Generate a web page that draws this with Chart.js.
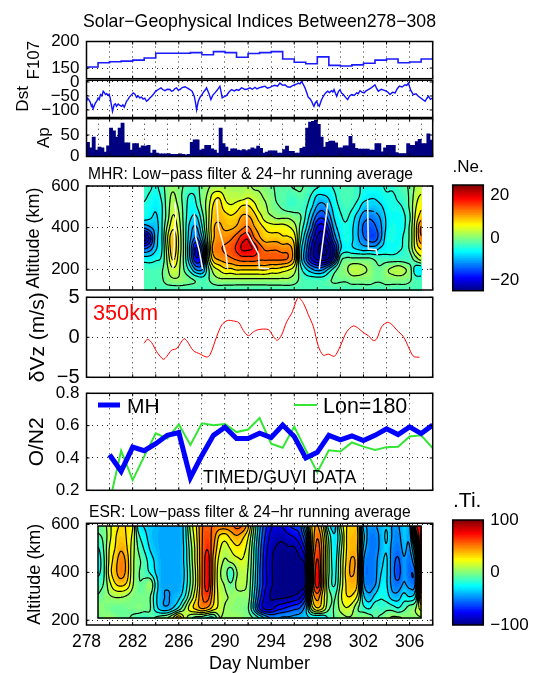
<!DOCTYPE html>
<html><head><meta charset="utf-8">
<script src="https://cdn.jsdelivr.net/npm/chart.js@4"></script>
<style>html,body{margin:0;padding:0;background:#fff}canvas{position:absolute;left:0;top:0}</style>
</head><body>
<script>
// ---------- data ----------
const dayTicks=[278,280,282,284,286,288,290,292,294,296,298,300,302,304,306,308];
const dayLabels=[278,282,286,290,294,298,302,306];
const f107Ticks=[150,200], dstTicks=[-100,-50,0], apTicks=[0,50], altTicks=[200,400,600];
const vzTicks=[-5,0,5], on2Ticks=[0.2,0.4,0.6,0.8], neBarTicks=[-20,0,20], tiBarTicks=[-100,0,100];

const f107Days=[278,279,280,281,282,283,284,285,286,287,288,289,290,291,292,293,294,295,296,297,298,299,300,301,302,303,304,305,306,307,308];
const f107Vals=[152,160,162,163,165,169,178,178,178,179,175,181,179,170.5,177.5,179,181,167,161,158,171,155,154,156,159,165,167,160,161.5,167,172];

const dstDays=[278,278.1,278.2,278.32,278.43,278.5,278.58,278.68,278.78,278.9,279.01,279.1,279.21,279.33,279.45,279.55,279.65,279.75,279.88,279.96,280.05,280.15,280.25,280.33,280.4,280.5,280.6,280.67,280.75,280.9,281.03,281.15,281.27,281.37,281.47,281.6,281.7,281.87,282.05,282.2,282.34,282.48,282.62,282.76,282.91,283.05,283.2,283.35,283.49,283.63,283.78,283.92,284.07,284.26,284.45,284.6,284.79,285,285.23,285.37,285.51,285.65,285.8,285.95,286.09,286.3,286.53,286.75,286.96,287.15,287.34,287.45,287.54,287.68,287.83,288,288.2,288.3,288.4,288.6,288.78,288.95,289.13,289.35,289.56,289.66,289.76,289.95,290.14,290.35,290.57,290.8,291.01,291.2,291.44,291.6,291.73,291.95,292.16,292.38,292.6,292.77,292.94,293.2,293.46,293.68,293.9,294.1,294.33,294.55,294.76,295,295.2,295.4,295.63,295.85,296.06,296.2,296.35,296.5,296.64,296.8,296.93,297.1,297.22,297.37,297.51,297.62,297.71,297.82,297.94,298.05,298.17,298.35,298.52,298.7,298.9,299.05,299.24,299.35,299.45,299.57,299.68,299.82,299.97,300.1,300.26,300.45,300.63,300.8,300.98,301.2,301.41,301.55,301.7,301.87,302.05,302.22,302.42,302.7,303,303.15,303.29,303.55,303.87,304.08,304.3,304.52,304.74,304.92,305.11,305.35,305.6,305.75,305.89,306.1,306.32,306.55,306.76,307.05,307.34,307.5,307.63,307.8,308];
const dstVals=[-69,-58,-63,-72,-87,-82,-95,-84,-75,-68,-57,-63,-45,-50,-33,-38,-45,-42,-48,-44,-57,-80,-105,-92,-81,-78,-87,-83,-79,-84,-87,-82,-90,-80,-69,-62,-55,-47,-39,-44,-55,-50,-57,-54,-61,-58,-69,-64,-57,-52,-45,-37,-31,-26,-21,-27,-31,-26,-27,-33,-31,-24,-21,-29,-27,-20,-17,-22,-27,-33,-51,-75,-100,-70,-55,-45,-33,-28,-21,-40,-63,-47,-39,-28,-15,-35,-57,-52,-48,-36,-27,-32,-27,-30,-21,-24,-27,-25,-21,-26,-19,-25,-21,-18,-15,-22,-19,-15,-12,-15,-4,-12,-10,-17,-19,-13,-10,-8,-4,-7,2,-10,-21,-40,-55,-60,-69,-80,-87,-75,-69,-80,-87,-65,-51,-40,-33,-38,-31,-36,-27,-40,-51,-35,-27,-40,-45,-55,-63,-50,-45,-48,-39,-42,-31,-36,-39,-32,-27,-20,-10,-24,-33,-26,-31,-35,-45,-37,-39,-25,-15,-18,-10,-12,-4,-30,-45,-42,-51,-60,-69,-58,-51,-62,-57];

const apVals=[33,20,45,15,22,20,10,25,66,60,45,66,78,32,32,15,30,30,20,25,24,26,8,15,8,6,6,6,7,5,5,5,6,5,4,5,33,39,39,15,17,26,26,18,15,8,66,30,22,12,18,18,15,14,16,14,16,20,18,24,
19,8,10,13,13,13,8,8,16,24,12,12,8,8,19,22,66,80,82,85,75,45,22,33,36,36,32,20,20,25,25,47,30,19,17,17,17,17,15,15,30,30,11,20,26,26,26,9,7,7,7,30,26,26,35,40,30,30,53,38];
const apStart=278.125, apStep=0.25;

const vzDays=[282.99,283.28,283.65,284.08,284.66,284.95,285.38,285.82,286.45,286.74,287.26,287.84,288.41,288.7,289.28,289.72,290.2,290.73,291.2,291.6,292.03,292.46,292.9,293.76,294.2,294.54,294.91,295.35,295.78,296.36,296.8,297.23,297.66,298.1,298.53,298.96,299.48,299.97,300.55,301.13,301.56,302,302.43,302.86,303.15,303.58,304.07,304.45,304.88,305.46,305.89,306.33,306.85];
const vzVals=[-0.75,-0.25,-0.67,-1.8,-2.75,-2.4,-1.6,-1.4,-0.17,-0.54,-1.67,-2.08,-2.46,-2.2,0.08,1.54,2.1,2.04,1.83,0.83,0.2,0.67,0.96,0.96,0.08,-0.37,0.3,1.96,3,5,4.25,2.8,1.33,-1.17,-2.25,-2.1,-2.37,-1.17,0.7,1.42,1.12,0.58,0.2,-0.42,-0.2,1.33,1.87,1.62,0.92,0.08,-1.17,-2.37,-2.5];

const on2Days=[280,281,282,283,284,285,286,287,288,289,290,291,292,293,294,295,296,297,298,299,300,301,302,303,304,305,306,307,308];
const mhVals=[.42,.318,.467,.445,.488,.54,.557,.278,.416,.54,.59,.52,.52,.553,.526,.604,.533,.40,.435,.54,.512,.537,.508,.54,.58,.545,.592,.551,.604];
const lonVals=[.125,.445,.263,.41,.553,.52,.608,.48,.614,.602,.61,.56,.576,.647,.488,.463,.594,.45,.312,.447,.44,.496,.47,.45,.467,.47,.533,.54,.461];

// Ne perturbation, columns are days 283..307 every half day
const neDays=[283,283.5,284,284.5,285,285.5,286,286.5,287,287.5,288,288.5,289,289.5,290,290.5,291,291.5,292,292.5,293,293.5,294,294.5,295,295.5,296,296.5,297,297.5,298,298.5,299,299.5,300,300.5,301,301.5,302,302.5,303,303.5,304,304.5,305,305.5,306,306.5,307];
const neAlts=[100,150,200,250,300,350,400,450,500,550,600];
const ne100=[-3,-3,-3,-3,-3,-3,-3,-3,-3,-3,-3,-3,-3,-3,-3,-3,-3,-3,-3,-3,-3,-3,-3,-3,-3,-3,-3,-3,-3,-3,-3,-3,-3,-3,-3,-3,-3,-3,-3,-3,-3,-3,-3,-3,-3,-3,-3,-3,-3];
const ne150=[-3,-3,-3,-2,0,1,1,0,-1,-2,-3,-2,0,1,1,1,1,1,1,1,1,1,1,1,1,1,0,-2,-3,-3,-3,-3,-2,-1,-1,-1,0,0,0,0,-1,-1,0,0,0,0,-1,-3,-3];
const ne200=[-3,-3,-3,-2,1,4,2,-2,-6,-11,-11,-3,3,5,7,7,8,8,8,8,8,8,7,7,6,5,3,-3,-7,-10,-12,-11,-7,-3,0,1,3,3,2,1,-1,-1,1,2,3,2,0,-6,-7];
const ne250=[-6,-6,-5,-4,2,8,3,-3,-11,-19,-15,0,9,11,12,13,14,15,15,15,14,14,14,14,14,13,8,-5,-13,-20,-23,-24,-22,-14,-3,-1,-1,-1,-1,-1,-2,-3,-3,-3,-3,-3,-3,0,3];
const ne300=[-14,-12,-8,-5,3,10,4,-3,-12,-20,-13,1,12,13,14,15,17,20,20,19,15,13,13,13,12,12,8,-5,-12,-20,-25,-26,-24,-17,-8,-6,-7,-8,-9,-9,-9,-7,-6,-6,-5,-4,-1,5,8];
const ne350=[-24,-18,-9,-5,4,10,4,-3,-10,-14,-8,2,10,12,12,13,15,18,19,14,11,9,9,9,8,8,6,-3,-10,-17,-23,-24,-20,-12,-7,-5,-7,-10,-13,-15,-15,-11,-6,-5,-6,-4,-1,6,13];
const ne400=[-13,-11,-9,-5,2,7,3,-3,-9,-11,-5,3,10,11,10,10,11,13,14,11,9,7,6,6,6,5,3,-2,-7,-13,-20,-21,-16,-9,-6,-5,-7,-10,-14,-15,-14,-11,-7,-5,-6,-5,-1,6,14];
const ne450=[-6,-7,-8,-5,0,5,2,-3,-7,-8,-3,3,9,10,9,8,9,11,11,9,6,3,2,1,1,1,0,-1,-5,-10,-15,-16,-12,-7,-5,-4,-6,-9,-12,-13,-12,-10,-7,-6,-6,-5,-2,5,9];
const ne500=[-5,-6,-7,-5,0,3,1,-3,-6,-5,-1,3,8,9,6,5,6,8,8,6,3,2,0,-1,-2,-3,-3,-3,-4,-7,-11,-12,-9,-6,-4,-3,-4,-6,-9,-9,-9,-8,-6,-5,-5,-4,-1,4,7];
const ne550=[-4,-5,-6,-4,0,2,0,-3,-5,-4,0,2,6,7,4,3,3,3,4,3,2,1,0,-2,-2,-3,-3,-2,-3,-5,-8,-8,-7,-5,-3,-3,-3,-4,-6,-7,-7,-6,-5,-5,-4,-3,-1,3,5];
const ne600=[-3,-4,-5,-3,0,1,0,-2,-3,-3,0,1,2,2,2,2,2,2,2,1,1,0,-1,-2,-2,-2,-1,-1,-2,-3,-4,-5,-5,-4,-3,-3,-3,-4,-5,-5,-5,-5,-4,-4,-3,-2,-1,2,3];
const neRows=[ne100,ne150,ne200,ne250,ne300,ne350,ne400,ne450,ne500,ne550,ne600];
const neLevels=[-25.5,-22.5,-19.5,-16.5,-13.5,-10.5,-7.5,-4.5,-1.5,1.5,4.5,7.5,10.5,13.5,16.5,19.5,22.5];

// white phase lines on the Ne panel
const w1Days=[285.66,285.75,285.66,285.6,285.49], w1Alts=[522,463,408,313,202];
const w2Days=[287.34,287.48,287.77,288.06], w2Alts=[468,352,289,202];
const w3Days=[289.3,289.42,290.08,290.23], w3Alts=[535,408,273,202];
const w4Days=[291.87,291.9,292.91,292.97,293.84], w4Alts=[532,376,273,206,202];
const w5Days=[298.9,298.66,298.17], w5Alts=[519,408,202];
const w6Days=[302.36,302.42,303.09,303.2], w6Alts=[535,297,294,268];

// Ti perturbation, columns are days 279..307 every half day
const tiDays=[279,279.5,280,280.5,281,281.5,282,282.5,283,283.5,284,284.5,285,285.5,286,286.5,287,287.5,288,288.5,289,289.5,290,290.5,291,291.5,292,292.5,293,293.5,294,294.5,295,295.5,296,296.5,297,297.5,298,298.5,299,299.5,300,300.5,301,301.5,302,302.5,303,303.5,304,304.5,305,305.5,306,306.5,307];
const tiAlts=[210,250,300,350,400,450,500,550,595];
const ti210=[-5,3,5,0,-5,-5,-8,-12,-15,-10,-5,0,5,20,40,15,-3,-10,-12,-20,-20,5,3,5,5,3,0,-8,-20,-35,-45,-45,-42,-42,-40,-38,-35,-30,-30,-30,-15,-5,0,5,5,0,5,0,-8,-3,3,8,8,5,0,3,5];
const ti250=[3,0,-3,-5,-5,-3,-2,0,-2,-5,-25,-38,-40,-30,-15,5,25,35,45,40,25,15,5,3,2,0,-5,-35,-70,-85,-85,-75,-70,-65,-60,-55,-35,10,30,18,-5,-5,10,18,12,-5,-15,-20,-10,-15,-10,-12,-18,-10,0,5,25];
const ti300=[-5,0,5,8,8,5,0,-2,-3,-5,-28,-40,-45,-40,-35,-20,5,30,55,62,35,15,8,5,3,3,0,-30,-62,-85,-95,-97,-97,-95,-92,-85,-60,25,50,25,0,-8,15,30,30,15,-28,-40,-28,-20,-25,-38,-38,-26,-32,-20,50];
const ti350=[-12,-5,15,30,35,28,8,-5,-3,5,-22,-42,-42,-42,-42,-28,-5,22,55,75,38,12,5,-5,8,10,3,-25,-55,-78,-92,-97,-100,-100,-100,-100,-90,30,75,35,-8,-20,8,32,40,28,-40,-50,-45,-28,-30,-48,-52,-42,-48,-40,80];
const ti400=[-22,-8,25,40,50,38,10,-5,-10,-20,-32,-42,-42,-42,-42,-30,-5,22,55,75,40,10,0,-15,5,12,5,-22,-55,-78,-92,-97,-100,-100,-100,-100,-90,30,75,35,-5,-22,5,35,45,30,-45,-52,-48,-32,-30,-50,-62,-45,-55,-40,90];
const ti450=[-25,-8,22,38,50,38,10,-3,-12,-25,-34,-42,-42,-42,-42,-28,-2,25,55,75,40,15,5,10,15,18,8,-20,-52,-78,-92,-97,-99,-99,-99,-95,-80,30,70,35,-5,-25,5,32,45,32,-42,-52,-48,-36,-30,-50,-58,-45,-52,-20,85];
const ti500=[-20,-5,20,32,42,32,12,-8,-20,-32,-38,-42,-42,-42,-42,-28,0,25,55,68,45,22,12,20,28,25,12,-18,-50,-75,-90,-95,-97,-95,-95,-85,-60,25,62,35,-5,-28,0,30,40,30,-33,-50,-50,-40,-32,-48,-52,-40,-45,0,85];
const ti550=[-8,-3,15,30,35,30,15,-15,-26,-36,-40,-42,-42,-42,-42,-26,5,28,55,62,50,30,25,35,42,35,20,-12,-45,-70,-85,-90,-90,-85,-80,-70,-40,25,55,30,-10,-30,-5,30,38,32,-25,-50,-50,-40,-30,-45,-48,-36,-38,30,85];
const ti595=[-5,0,15,28,32,30,20,-25,-32,-36,-38,-42,-42,-42,-42,-25,10,30,55,58,55,50,50,52,60,55,35,-5,-40,-65,-80,-82,-80,-70,-65,-60,-20,30,45,20,-25,-35,5,30,35,30,-35,-45,-45,-38,-32,-45,-45,-34,-34,60,80];
const tiRows=[ti210,ti250,ti300,ti350,ti400,ti450,ti500,ti550,ti595];
const tiLevels=[-93.75,-81.25,-68.75,-56.25,-43.75,-31.25,-18.75,-6.25,6.25,18.75,31.25,43.75,56.25,68.75,81.25,93.75];

// ---------- rendering helpers ----------
Chart.defaults.font.family='"Liberation Sans"';
Chart.defaults.color='#000';
const W=535,H=673,L=86.5,R=432.7;
const clamp=v=>Math.max(0,Math.min(1,v));
const jet=t=>{t=(Math.floor(clamp(t)*63.999)+0.5)/64;return [clamp(1.5-Math.abs(4*t-3)),clamp(1.5-Math.abs(4*t-2)),clamp(1.5-Math.abs(4*t-1))].map(c=>Math.round(c*255));};
const zip=(xs,ys)=>xs.map((x,i)=>({x,y:ys[i]}));
const gridCells=(days,alts,rows)=>{const o=[];alts.forEach((a,j)=>days.forEach((d,i)=>o.push({x:d,y:a,v:rows[j][i]})));return o;};
const fmt=v=>String(v).replace('-','\u2212');
const cr=(a,b,c,d,t)=>0.5*(2*b+(c-a)*t+(2*a-5*b+4*c-d)*t*t+(3*b-a-3*c+d)*t*t*t);

const framePlugin={id:'frame',afterDraw(c){
  const a=c.chartArea,x=c.ctx;x.save();x.strokeStyle='#000';x.lineWidth=1.5;
  x.strokeRect(a.left,a.top,a.width,a.height);
  x.lineWidth=1;x.beginPath();
  const sx=c.scales.x,sy=c.scales.y;
  if(sx&&sx.options.display)sx.ticks.forEach(t=>{const p=sx.getPixelForValue(t.value);x.moveTo(p,a.top);x.lineTo(p,a.top+3);x.moveTo(p,a.bottom);x.lineTo(p,a.bottom-3);});
  if(sx&&sx.options.display)sy.ticks.forEach(t=>{const p=sy.getPixelForValue(t.value);x.moveTo(a.left,p);x.lineTo(a.left+3,p);x.moveTo(a.right,p);x.lineTo(a.right-3,p);});
  x.stroke();x.restore();
}};
const textPlugin={id:'texts',afterDraw(c,_,o){
  const x=c.ctx;(o.items||[]).forEach(t=>{x.save();x.font=t.font;x.fillStyle=t.color||'#000';x.textAlign=t.align||'left';x.textBaseline='middle';x.fillText(t.text,t.x,t.y);x.restore();});
  (o.lines||[]).forEach(l=>{x.save();x.strokeStyle=l.color;x.lineWidth=l.width;x.beginPath();x.moveTo(l.x0,l.y);x.lineTo(l.x1,l.y);x.stroke();x.restore();});
}};
const heatPlugin={id:'heat',beforeDatasetsDraw(c,_,o){
  if(!o.levels)return;
  const cells=c.data.datasets[0].data,xs=[...new Set(cells.map(d=>d.x))],ys=[...new Set(cells.map(d=>d.y))];
  const nx=xs.length,ny=ys.length,G=(i,j)=>cells[Math.max(0,Math.min(ny-1,j))*nx+Math.max(0,Math.min(nx-1,i))].v;
  const sx=c.scales.x,sy=c.scales.y;
  const x0=Math.round(sx.getPixelForValue(xs[0])),x1=Math.round(sx.getPixelForValue(xs[nx-1]));
  const y1=Math.round(sy.getPixelForValue(ys[0])),y0=Math.round(sy.getPixelForValue(ys[ny-1]));
  const w=x1-x0+1,h=y1-y0+1,F=new Float32Array(w*h);
  const idx=(arr,v)=>{let k=0;while(k<arr.length-2&&v>arr[k+1])k++;return [k,clamp((v-arr[k])/(arr[k+1]-arr[k]))];};
  for(let py=0;py<h;py++){const[j,tj]=idx(ys,sy.getValueForPixel(y0+py));
    for(let px=0;px<w;px++){const[i,ti]=idx(xs,sx.getValueForPixel(x0+px));
      const col=[-1,0,1,2].map(dj=>cr(G(i-1,j+dj),G(i,j+dj),G(i+1,j+dj),G(i+2,j+dj),ti));
      F[py*w+px]=cr(col[0],col[1],col[2],col[3],tj);}}
  const off=document.createElement('canvas');off.width=w;off.height=h;
  const oc=off.getContext('2d'),im=oc.createImageData(w,h);
  for(let k=0;k<w*h;k++){const rgb=jet((F[k]-o.min)/(o.max-o.min));im.data[k*4]=rgb[0];im.data[k*4+1]=rgb[1];im.data[k*4+2]=rgb[2];im.data[k*4+3]=255;}
  oc.putImageData(im,0,0);
  const x=c.ctx;x.save();x.drawImage(off,x0,y0);
  x.strokeStyle='#000';x.lineWidth=o.lineWidth||1.2;x.beginPath();
  o.levels.forEach(lv=>{
    for(let py=0;py<h-1;py++)for(let px=0;px<w-1;px++){
      const a=F[py*w+px]-lv,b=F[py*w+px+1]-lv,d=F[(py+1)*w+px]-lv,e=F[(py+1)*w+px+1]-lv,pts=[];
      if(a*b<0)pts.push([px+a/(a-b),py]);
      if(b*e<0)pts.push([px+1,py+b/(b-e)]);
      if(d*e<0)pts.push([px+d/(d-e),py+1]);
      if(a*d<0)pts.push([px,py+a/(a-d)]);
      for(let k=0;k+1<pts.length;k+=2){x.moveTo(x0+pts[k][0],y0+pts[k][1]);x.lineTo(x0+pts[k+1][0],y0+pts[k+1][1]);}
    }});
  x.stroke();
  if(o.edge){x.lineWidth=o.edge;x.strokeRect(x0,y0,w-1,h-1);}
  x.restore();
}};
Chart.register(framePlugin,textPlugin,heatPlugin);

const dots=[1,4];
function panel(o){
  const cv=document.createElement('canvas');cv.width=W;cv.height=H;document.body.appendChild(cv);
  return new Chart(cv,{type:o.type||'scatter',data:o.data,options:{
    responsive:false,animation:false,devicePixelRatio:1,
    layout:{padding:{top:o.top,right:W-R,left:0,bottom:0}},
    plugins:{legend:{display:false},tooltip:{enabled:false},texts:o.texts||{},heat:o.heat||{},title:{display:false}},
    scales:{
      x:{type:'linear',min:278,max:308,offset:false,
        afterBuildTicks:s=>{s.ticks=dayTicks.map(v=>({value:v}));},
        afterFit:s=>{s.height=H-o.bottom;},
        grid:{color:'#222',lineWidth:1,drawTicks:false},border:{display:false,dash:dots},
        title:o.xTitle?{display:true,text:o.xTitle,font:{size:18,lineHeight:1},padding:{bottom:0,top:0}}:{display:false},
        ticks:{display:!!o.xLabels,autoSkip:false,maxRotation:0,minRotation:0,padding:7,font:{size:17.5},callback:v=>dayLabels.includes(v)?String(v):''}},
      y:{type:'linear',min:o.min,max:o.max,
        afterBuildTicks:s=>{s.ticks=o.ticks.map(v=>({value:v}));},
        afterFit:s=>{s.width=L;},
        grid:{color:'#222',lineWidth:1,drawTicks:false},border:{display:false,dash:dots},
        title:{display:true,text:o.yTitle,font:{size:o.yTitleSize||17},padding:{top:o.yTitleX-(o.yTitleSize||17)*0.6,bottom:0}},
        ticks:{padding:7,font:{size:o.tickSize||17},autoSkip:false,callback:o.tickFmt||fmt}}
    }}});
}
function colorbar(top,bottom,lo,hi,ticks,texts){
  const n=64,ds=[];
  for(let i=n-1;i>=0;i--){const c=jet((i+0.5)/n);ds.push({data:[[lo+i*(hi-lo)/n,hi]],backgroundColor:`rgb(${c})`,borderWidth:0,barPercentage:1,categoryPercentage:1,grouped:false});}
  const cv=document.createElement('canvas');cv.width=W;cv.height=H;document.body.appendChild(cv);
  return new Chart(cv,{type:'bar',data:{labels:[''],datasets:ds},options:{
    responsive:false,animation:false,devicePixelRatio:1,
    layout:{padding:{top,left:452.7,right:0,bottom:H-bottom}},
    plugins:{legend:{display:false},tooltip:{enabled:false},texts},
    scales:{x:{display:false,stacked:true},
      y:{position:'right',min:lo,max:hi,afterBuildTicks:s=>{s.ticks=ticks.map(v=>({value:v}));},
         afterFit:s=>{s.width=W-483.3;},grid:{display:false,drawTicks:false},border:{display:false},
         ticks:{padding:7,font:{size:17},autoSkip:false,callback:fmt}}}}});
}

// F10.7
panel({top:41.5,bottom:78.7,min:130,max:200,ticks:f107Ticks,yTitle:'F107',yTitleX:34,
  texts:{items:[{text:'Solar\u2212Geophysical Indices Between278\u2212308',x:83,y:22,font:'17.7px "Liberation Sans"'}]},
  data:{datasets:[{data:zip(f107Days,f107Vals),showLine:true,stepped:'before',borderColor:'#1a1aff',borderWidth:1.6,pointRadius:0}]}});
// Dst
panel({top:80.3,bottom:117.5,min:-127,max:6,ticks:dstTicks,yTitle:'Dst',yTitleX:23,
  data:{datasets:[{data:zip(dstDays,dstVals),showLine:true,borderColor:'#1010ff',borderWidth:1.4,pointRadius:0}]}});
// Ap
panel({top:118.7,bottom:156.5,type:'bar',min:0,max:88,ticks:apTicks,yTitle:'Ap',yTitleX:44,
  data:{datasets:[{data:apVals.map((v,i)=>({x:apStart+i*apStep,y:v})),backgroundColor:'#000080',barThickness:3.2,borderWidth:0}]}});
// MHR Ne
panel({top:186,bottom:290,min:100,max:600,ticks:altTicks,yTitle:'Altitude (km)',yTitleX:34,yTitleSize:18,
  heat:{levels:neLevels,min:-25,max:25},
  texts:{items:[{text:'MHR: Low\u2212pass filter & 24\u2212hr running average',x:88,y:175,font:'15.6px "Liberation Sans"'}]},
  data:{datasets:[{data:gridCells(neDays,neAlts,neRows),pointRadius:0,showLine:false},
    ...[[w1Days,w1Alts],[w2Days,w2Alts],[w3Days,w3Alts],[w4Days,w4Alts],[w5Days,w5Alts],[w6Days,w6Alts]].map(p=>({data:zip(p[0],p[1]),showLine:true,borderColor:'#fff',borderWidth:1.5,pointRadius:0}))]}});
// dVz
panel({top:297.3,bottom:377.3,min:-5,max:5,ticks:vzTicks,tickSize:20,yTitle:'\u03b4Vz (m/s)',yTitleX:38,yTitleSize:21,
  texts:{items:[{text:'350km',x:93,y:314,font:'21.7px "Liberation Sans"',color:'#f00'}]},
  data:{datasets:[{data:zip(vzDays,vzVals),showLine:true,borderColor:'#f00',borderWidth:1,tension:0.3,pointRadius:0}]}});
// O/N2
panel({top:393.3,bottom:490.3,min:0.2,max:0.8,ticks:on2Ticks,yTitle:'O/N2',yTitleX:37,yTitleSize:21,tickFmt:v=>Number(v).toFixed(1),
  texts:{items:[{text:'MH',x:127,y:407,font:'21px "Liberation Sans"'},{text:'Lon=180',x:323,y:407,font:'21.5px "Liberation Sans"'},{text:'TIMED/GUVI DATA',x:203,y:478,font:'17.8px "Liberation Sans"'}],
    lines:[{x0:98,x1:120,y:405,width:5,color:'#0000ff'},{x0:294,x1:317,y:405,width:2,color:'#32e632'}]},
  data:{datasets:[{data:zip(on2Days,mhVals),showLine:true,borderColor:'#0000ff',borderWidth:5,pointRadius:0},
    {data:zip(on2Days,lonVals),showLine:true,borderColor:'#32e632',borderWidth:2,pointRadius:0}]}});
// ESR Ti
panel({top:523.3,bottom:625,min:180,max:605,ticks:altTicks,yTitle:'Altitude (km)',yTitleX:35,yTitleSize:18,xLabels:true,xTitle:'Day Number',
  heat:{levels:tiLevels,min:-100,max:100,edge:1.5},
  texts:{items:[{text:'ESR: Low\u2212pass filter & 24\u2212hr running average',x:89,y:513,font:'15.6px "Liberation Sans"'}]},
  data:{datasets:[{data:gridCells(tiDays,tiAlts,tiRows),pointRadius:0,showLine:false}]}});
// colour bars
colorbar(185,290.7,-25,25,neBarTicks,{items:[{text:'.Ne.',x:452.5,y:167,font:'17px "Liberation Sans"'}]});
colorbar(520,625,-100,100,tiBarTicks,{items:[{text:'.Ti.',x:453,y:501,font:'21px "Liberation Sans"'}]});
</script>
</body></html>
